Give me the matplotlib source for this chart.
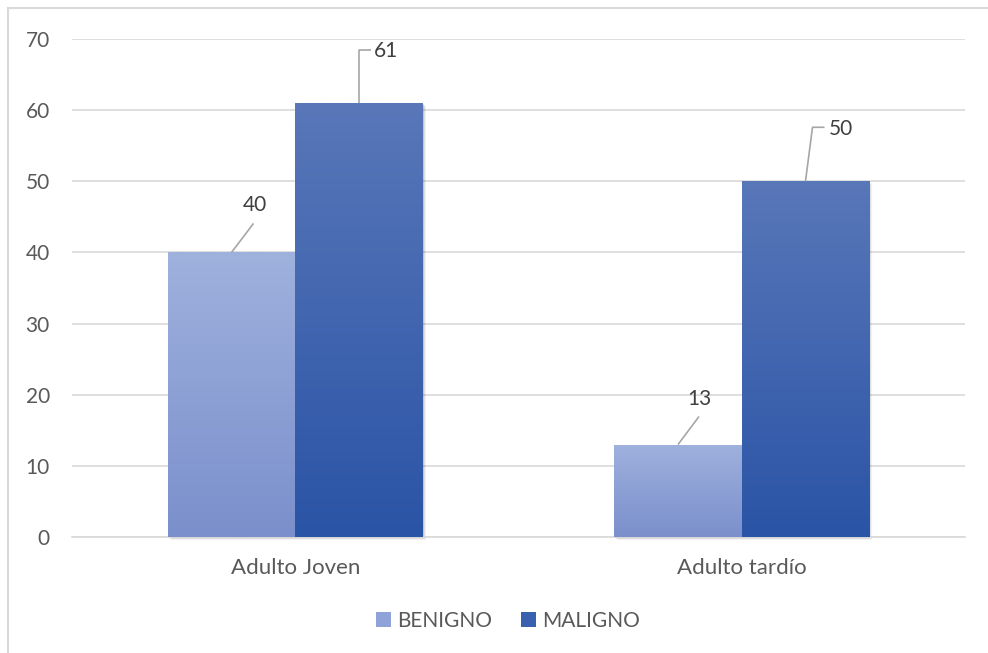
import numpy as np
import matplotlib.pyplot as plt
from matplotlib.patches import Rectangle, Patch
from matplotlib.colors import LinearSegmentedColormap
from matplotlib.lines import Line2D
import matplotlib.transforms as mtransforms

plt.rcParams['font.family'] = ['Lato', 'DejaVu Sans']

categories = ["Adulto Joven", "Adulto tardío"]
series = ["BENIGNO", "MALIGNO"]
benigno = [40, 13]
maligno = [61, 50]
values = [benigno, maligno]

# gradient (top, bottom) per series
grad = [("#9fb1dd", "#7b8fcc"), ("#5977b9", "#2a54a6")]
legend_cols = ["#8fa3d8", "#3a60b0"]

# label leader lines, in pixels relative to bar top: (line points, text pos)
leaders = {
    (0, 0): ([(0, 0), (22, 29)], (23, 47)),
    (1, 0): ([(0, 0), (0, 53), (12, 53)], (27, 52)),
    (0, 1): ([(0, 0), (21, 28)], (21, 46)),
    (1, 1): ([(0, 0), (7, 54), (19, 54)], (35, 52)),
}

txt = "#595959"
grid = "#d9d9d9"

fig = plt.figure(figsize=(9.88, 6.53), dpi=100)
ax = fig.add_axes([72 / 988, (653 - 537) / 653, (965 - 72) / 988, (537 - 39) / 653])
ax.set_xlim(-0.5, 1.5)
ax.set_ylim(0, 70)

width = 0.2855
x = np.arange(len(categories))
for s in range(2):
    cmap = LinearSegmentedColormap.from_list("g%d" % s, [grad[s][1], grad[s][0]])
    for i in range(len(categories)):
        left = x[i] - width + s * width
        v = values[s][i]
        # soft shadow
        for k, a in [(3, 0.05), (2, 0.08), (1, 0.11)]:
            off = mtransforms.ScaledTranslation(k / 100, -k / 100, fig.dpi_scale_trans)
            ax.add_patch(Rectangle((left, 0), width, v, facecolor="k", alpha=a,
                                   edgecolor="none", transform=ax.transData + off,
                                   zorder=2, clip_on=False))
        rect = Rectangle((left, 0), width, v, facecolor="none", edgecolor="none", zorder=3)
        ax.add_patch(rect)
        im = ax.imshow(np.linspace(0, 1, 256).reshape(-1, 1), cmap=cmap, aspect="auto",
                       extent=[left, left + width, 0, v], origin="lower", zorder=3)
        im.set_clip_path(rect)

        # data label with leader line
        pts, tp = leaders[(s, i)]
        cx = left + width / 2
        d = ax.transData.transform((cx, v))
        seg = ax.transData.inverted().transform([(d[0] + p[0], d[1] + p[1]) for p in pts])
        ax.plot(seg[:, 0], seg[:, 1], color="#a6a6a6", lw=1.2, zorder=4,
                solid_capstyle="butt", clip_on=False)
        ax.annotate(str(v), xy=(cx, v), xytext=(tp[0] * 0.72, tp[1] * 0.72),
                    textcoords="offset points", ha="center", va="center",
                    fontsize=15, color="#404040", annotation_clip=False)

ax.set_xlim(-0.5, 1.5)
ax.set_ylim(0, 70)
ax.set_yticks(range(0, 71, 10))
ax.set_xticks(x)
ax.set_xticklabels(categories)
ax.tick_params(axis="both", length=0, labelsize=15, colors=txt)
ax.tick_params(axis="x", labelsize=16, pad=15)
ax.tick_params(axis="y", pad=16)
ax.grid(axis="y", color=grid, lw=1.2, zorder=0)
ax.set_axisbelow(True)
for sp in ["top", "right", "left"]:
    ax.spines[sp].set_visible(False)
ax.spines["bottom"].set_color(grid)
ax.spines["bottom"].set_linewidth(1.2)

handles = [Patch(facecolor=c, edgecolor="none") for c in legend_cols]
fig.legend(handles, series, loc="center", bbox_to_anchor=(508 / 988, 1 - 621 / 653),
           ncol=2, frameon=False, fontsize=15, labelcolor=txt, handlelength=0.7,
           handleheight=0.7, handletextpad=0.3, columnspacing=1.4)

fig.add_artist(Line2D([8 / 988, 8 / 988], [0, 1 - 8 / 653], color=grid, lw=1.5))
fig.add_artist(Line2D([8 / 988, 1], [1 - 8 / 653, 1 - 8 / 653], color=grid, lw=1.5))

fig.savefig("out.png", dpi=100)
